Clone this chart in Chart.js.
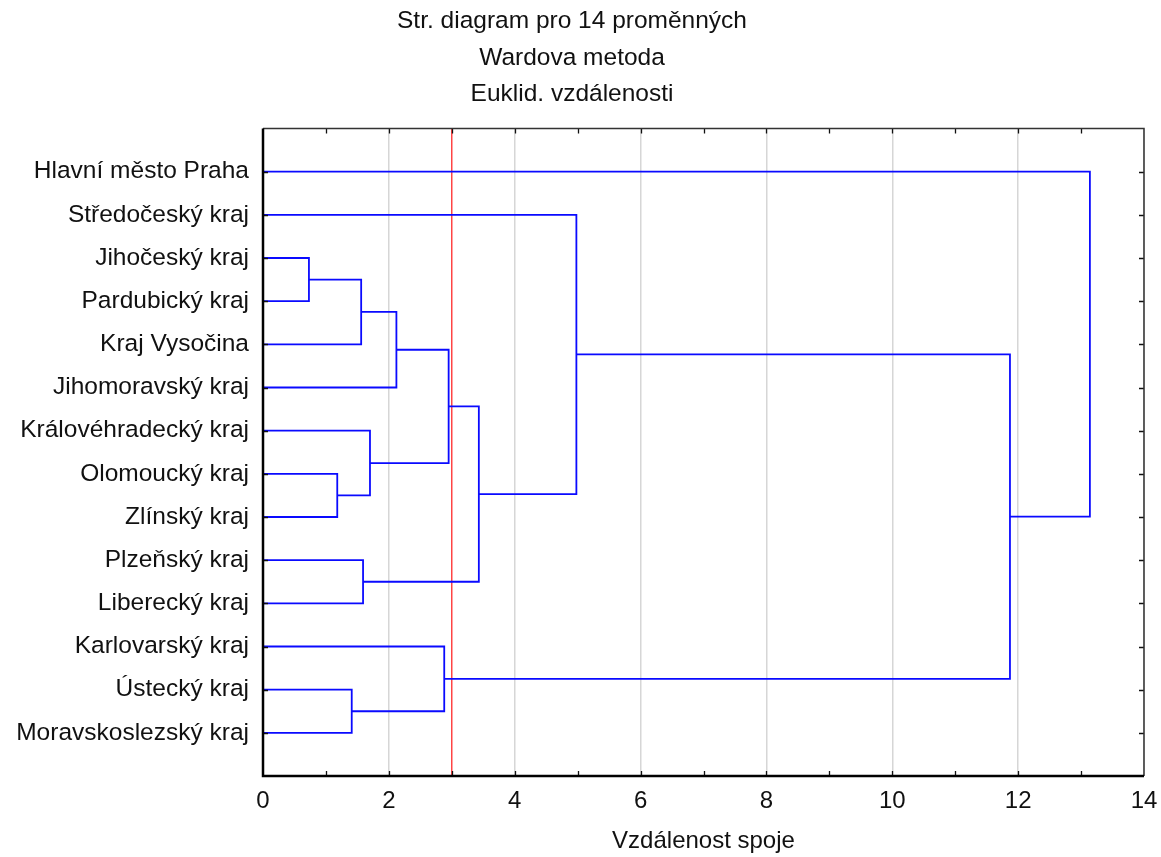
<!DOCTYPE html>
<html>
<head>
<meta charset="utf-8">
<script src="https://cdn.jsdelivr.net/npm/chart.js@4/dist/chart.umd.min.js"></script>
<style>
  html, body { margin: 0; padding: 0; background: #fff; }
  #wrap { width: 1161px; height: 857px; }
</style>
</head>
<body>
<div id="wrap"><canvas id="c" width="1161" height="857"></canvas></div>
<script>
// ---- data ----
const titleLines = ["Str. diagram pro 14 proměnných", "Wardova metoda", "Euklid. vzdálenosti"];
const xAxisTitle = "Vzdálenost spoje";
const regions = [
  "Hlavní město Praha", "Středočeský kraj", "Jihočeský kraj", "Pardubický kraj",
  "Kraj Vysočina", "Jihomoravský kraj", "Královéhradecký kraj", "Olomoucký kraj",
  "Zlínský kraj", "Plzeňský kraj", "Liberecký kraj", "Karlovarský kraj",
  "Ústecký kraj", "Moravskoslezský kraj"
];
// linkage: indices < 14 are leaves, >= 14 refer to earlier merges (14 + k)
const mergeLeft   = [2, 7, 12, 14, 9, 6, 17, 11, 20, 22, 1, 24, 0];
const mergeRight  = [3, 8, 13, 4, 10, 15, 5, 16, 19, 18, 23, 21, 25];
const mergeHeight = [0.73, 1.18, 1.41, 1.56, 1.59, 1.70, 2.12, 2.88, 2.95, 3.43, 4.98, 11.87, 13.14];
const cutHeight = 3;
const xTicks = [0, 2, 4, 6, 8, 10, 12, 14];

// ---- build dendrogram link paths from linkage ----
const n = regions.length;
const pos = [], hgt = [];
for (let i = 0; i < n; i++) { pos[i] = i + 1; hgt[i] = 0; }
const datasets = [];
for (let k = 0; k < mergeLeft.length; k++) {
  const a = mergeLeft[k], b = mergeRight[k], h = mergeHeight[k];
  datasets.push({
    data: [
      { x: hgt[a], y: pos[a] }, { x: h, y: pos[a] },
      { x: h, y: pos[b] }, { x: hgt[b], y: pos[b] }
    ],
    borderColor: 'rgb(10,10,255)', borderWidth: 1.8,
    showLine: true, pointRadius: 0, fill: false, tension: 0
  });
  pos[n + k] = (pos[a] + pos[b]) / 2;
  hgt[n + k] = h;
}
datasets.push({
  data: [{ x: cutHeight, y: 0 }, { x: cutHeight, y: n + 1 }],
  borderColor: 'rgb(255,40,40)', borderWidth: 1.3,
  showLine: true, pointRadius: 0, fill: false, tension: 0
});

const FONT = "'Liberation Sans', Arial, sans-serif";

const framePlugin = {
  id: 'frame',
  afterDraw(chart) {
    const { ctx, chartArea: ca, scales } = chart;
    ctx.save();
    ctx.strokeStyle = '#111';
    ctx.lineWidth = 1.3;
    ctx.beginPath();
    for (let v = 1; v < 14; v++) {
      const px = Math.round(scales.x.getPixelForValue(v)) + 0.5;
      ctx.moveTo(px, ca.bottom); ctx.lineTo(px, ca.bottom - 5);
      ctx.moveTo(px, ca.top); ctx.lineTo(px, ca.top + 5);
    }
    for (let r = 1; r <= n; r++) {
      const py = Math.round(scales.y.getPixelForValue(r)) + 0.5;
      ctx.moveTo(ca.left, py); ctx.lineTo(ca.left + 5, py);
      ctx.moveTo(ca.right, py); ctx.lineTo(ca.right - 5, py);
    }
    ctx.stroke();
    ctx.lineWidth = 1.5;
    ctx.strokeStyle = '#333';
    ctx.beginPath();
    ctx.moveTo(ca.left, ca.top); ctx.lineTo(ca.right, ca.top); ctx.lineTo(ca.right, ca.bottom);
    ctx.stroke();
    ctx.lineWidth = 2.5;
    ctx.strokeStyle = '#000';
    ctx.beginPath();
    ctx.moveTo(ca.left, ca.top); ctx.lineTo(ca.left, ca.bottom); ctx.lineTo(ca.right, ca.bottom);
    ctx.stroke();
    ctx.restore();
  }
};

new Chart(document.getElementById('c'), {
  type: 'scatter',
  data: { datasets },
  plugins: [framePlugin],
  options: {
    responsive: false,
    animation: false,
    layout: { padding: { left: 0, right: 17, top: 0, bottom: 0 } },
    plugins: {
      legend: { display: false },
      tooltip: { enabled: false },
      title: {
        display: true,
        text: titleLines,
        color: '#111',
        font: { family: FONT, size: 24.5, weight: 'normal', lineHeight: '36.5px' },
        padding: { top: 3, bottom: 16 }
      }
    },
    scales: {
      x: {
        type: 'linear', min: 0, max: 14,
        afterBuildTicks(s) { s.ticks = xTicks.map(v => ({ value: v })); },
        afterFit(s) { s.height = 81; s.paddingLeft = 0; s.paddingRight = 0; },
        ticks: { color: '#111', font: { family: FONT, size: 24 }, padding: 11, maxRotation: 0 },
        grid: { color: '#d6d6d6', lineWidth: 1.5, drawTicks: false },
        border: { display: false },
        title: {
          display: true, text: xAxisTitle, color: '#111',
          font: { family: FONT, size: 24 }, padding: { top: 10, bottom: 1 }
        }
      },
      y: {
        type: 'linear', min: 0, max: n + 1, reverse: true,
        afterFit(s) { s.width = 263; s.paddingTop = 0; s.paddingBottom = 0; },
        ticks: {
          stepSize: 1, autoSkip: false, color: '#111',
          font: { family: FONT, size: 24.5 }, padding: 14,
          callback: v => regions[v - 1] || ''
        },
        grid: { display: false, drawTicks: false },
        border: { display: false }
      }
    }
  }
});
</script>
</body>
</html>
